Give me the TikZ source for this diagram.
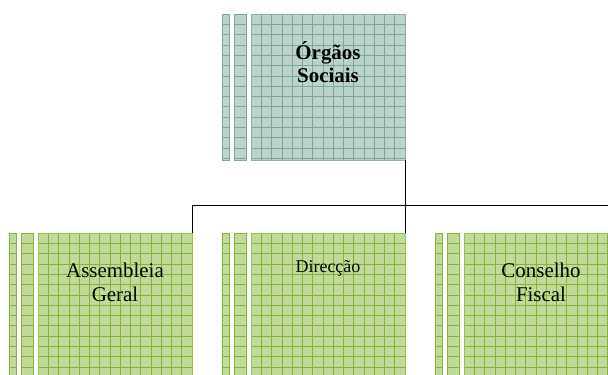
\documentclass[tikz,border=0pt]{standalone}
\usepackage{fontspec}
\setmainfont{Liberation Serif}
\definecolor{gfill}{HTML}{C2DA98}
\definecolor{ggrid}{HTML}{86B33C}
\definecolor{gedge}{HTML}{98C255}
\definecolor{tfill}{HTML}{BCD3C9}
\definecolor{tgrid}{HTML}{7FA797}
\definecolor{tedge}{HTML}{8EB3A4}
\tikzset{
  hlines/.style={path picture={
      \foreach \k in {1,...,16}{
        \draw[#1, line width=0.6bp] ([yshift=-\k*10.3bp]path picture bounding box.north west) -- ++(400bp,0);}
  }},
  vlines/.style={path picture={
      \foreach \k in {1,...,16}{
        \draw[#1, line width=0.6bp] ([yshift=-\k*10.3bp]path picture bounding box.north west) -- ++(400bp,0);
        \draw[#1, line width=0.6bp] ([xshift=\k*10.27bp]path picture bounding box.north west) -- ++(0,-400bp);}
  }},
  mainbox/.style n args={3}{draw=#1, fill=#2, line width=0.8bp, inner sep=0pt, outer sep=0pt,
      anchor=north west, minimum width=154bp, minimum height=146bp, vlines=#3},
  stripone/.style n args={3}{draw=#3, fill=#2, line width=0.8bp, inner sep=0pt, outer sep=0pt,
      anchor=north west, minimum width=7bp, minimum height=146bp, hlines=#3},
  striptwo/.style n args={3}{draw=#3, fill=#2, line width=0.8bp, inner sep=0pt, outer sep=0pt,
      anchor=north west, minimum width=12bp, minimum height=146bp, hlines=#3},
  label/.style={anchor=base, inner sep=0pt, text=black},
  conn/.style={draw=black, line width=0.9bp},
}
\begin{document}
\begin{tikzpicture}[x=1bp,y=-1bp]
\useasboundingbox (0,0) rectangle (608,374);
\clip (0,0) rectangle (608,374);
% top box
\node[stripone={tedge}{tfill}{tgrid}] (os1) at (222,14) {};
\node[striptwo={tedge}{tfill}{tgrid}] (os2) at (234,14) {};
\node[mainbox={tedge}{tfill}{tgrid}] (org) at (251,14) {};
\node[label] (orgt) at ([yshift=-45bp]org.north)
  {\fontsize{21}{24}\selectfont\bfseries\begin{tabular}[t]{@{}c@{}}Órgãos\\Sociais\end{tabular}};
% bottom boxes
\node[stripone={gedge}{gfill}{ggrid}] (ag1) at (9,233) {};
\node[striptwo={gedge}{gfill}{ggrid}] (ag2) at (21,233) {};
\node[mainbox={gedge}{gfill}{ggrid}] (ag) at (38,233) {};
\node[label] (agt) at ([yshift=-44bp]ag.north)
  {\fontsize{21}{25}\selectfont\begin{tabular}[t]{@{}c@{}}Assembleia\\Geral\end{tabular}};
\node[stripone={gedge}{gfill}{ggrid}] (dr1) at (222,233) {};
\node[striptwo={gedge}{gfill}{ggrid}] (dr2) at (234,233) {};
\node[mainbox={gedge}{gfill}{ggrid}] (dir) at (251,233) {};
\node[label] (dirt) at ([yshift=-39.5bp]dir.north) {\fontsize{18}{22}\selectfont Direcção};
\node[stripone={gedge}{gfill}{ggrid}] (cf1) at (435,233) {};
\node[striptwo={gedge}{gfill}{ggrid}] (cf2) at (447,233) {};
\node[mainbox={gedge}{gfill}{ggrid}] (cf) at (464,233) {};
\node[label] (cft) at ([yshift=-44bp]cf.north)
  {\fontsize{21}{25}\selectfont\begin{tabular}[t]{@{}c@{}}Conselho\\Fiscal\end{tabular}};
% connectors
\draw[conn] (org.south east) -- (dir.north east);
\draw[conn] (ag.north east) -- ++(0,-28) -| (cf.north east);
\end{tikzpicture}
\end{document}
